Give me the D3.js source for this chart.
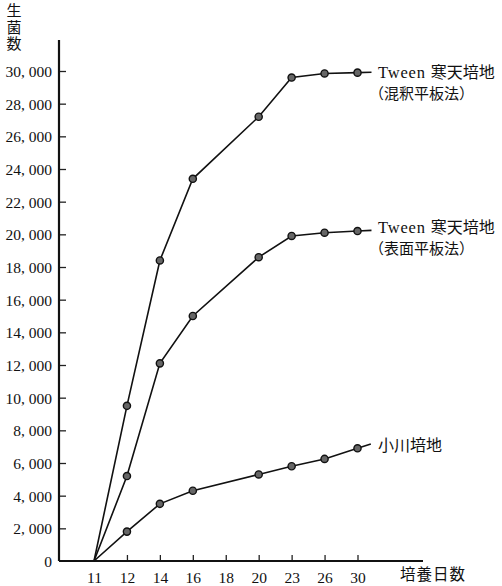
<!DOCTYPE html>
<html>
<head>
<meta charset="utf-8">
<script src="https://cdn.jsdelivr.net/npm/d3@7"></script>
<style>
html,body{margin:0;padding:0;background:#fff;}
svg{display:block;}
.num{font-family:"Liberation Serif","DejaVu Serif",serif;fill:#111;}
.cjk{font-family:"Noto Sans CJK JP","Noto Sans CJK SC",sans-serif;fill:#111;}
</style>
</head>
<body>
<svg id="chart" width="502" height="586"></svg>
<script>
// ---- data ----
const xCategories = ["11","12","14","16","18","20","23","26","30"];
const days = ["11","12","14","16","20","23","26","30"];
const seriesMixed = [0, 9500, 18400, 23400, 27200, 29600, 29850, 29900];   // Tween 寒天培地（混釈平板法）
const seriesSurface = [0, 5200, 12100, 15000, 18600, 19900, 20100, 20200]; // Tween 寒天培地（表面平板法）
const seriesOgawa = [0, 1800, 3500, 4300, 5300, 5800, 6250, 6900];         // 小川培地
const yTicks = [0,2000,4000,6000,8000,10000,12000,14000,16000,18000,20000,22000,24000,26000,28000,30000];
const seriesNames = [["Tween 寒天培地","（混釈平板法）"],["Tween 寒天培地","（表面平板法）"],["小川培地"]];
const yTitle = "生菌数";
const xTitle = "培養日数";

const svg = d3.select("#chart");
const x = d3.scalePoint().domain(xCategories).range([94, 357.5]).padding(0);
const y = d3.scaleLinear().domain([0, 30000]).range([561, 71]);
const axisX = 59;

// y axis
const yAxis = d3.axisLeft(y).tickValues(yTicks).tickSizeInner(-7).tickSizeOuter(0).tickPadding(7)
  .tickFormat(v => d3.format(",")(v).replace(",", ", "));
const gy = svg.append("g").attr("transform", `translate(${axisX},0)`).call(yAxis);
gy.select(".domain").remove();
gy.selectAll(".tick line").attr("stroke", "#222").attr("stroke-width", 1.3);
gy.selectAll(".tick").filter(d => d === 0).select("line").remove();
gy.selectAll(".tick text").attr("class", "num").style("font-size", "15.5px").attr("fill", "#111")
  .attr("font-family", null).attr("dy", "0.35em");

// x axis
const xAxis = d3.axisBottom(x).tickSizeInner(-6).tickSizeOuter(0).tickPadding(11);
const gx = svg.append("g").attr("transform", `translate(0,561)`).call(xAxis);
gx.select(".domain").remove();
gx.selectAll(".tick line").attr("stroke", "#222").attr("stroke-width", 1.3);
gx.selectAll(".tick").filter(d => d === "11").select("line").remove();
gx.selectAll(".tick text").attr("class", "num").style("font-size", "15.5px").attr("fill", "#111")
  .attr("font-family", null);

// axis lines
svg.append("line").attr("x1", axisX).attr("x2", axisX).attr("y1", 40).attr("y2", y(0))
  .attr("stroke", "#111").attr("stroke-width", 2.2);
svg.append("line").attr("x1", axisX).attr("x2", 423).attr("y1", y(0)).attr("y2", y(0))
  .attr("stroke", "#111").attr("stroke-width", 1.8);

// axis titles
svg.append("text").attr("class", "cjk").attr("x", 14).attr("y", 3)
  .attr("writing-mode", "vertical-rl").style("writing-mode", "vertical-rl")
  .style("font-size", "15px").style("letter-spacing", "1.5px").text(yTitle);
svg.append("text").attr("class", "cjk").attr("x", 400).attr("y", 580)
  .style("font-size", "15.5px").style("letter-spacing", "1px").text(xTitle);

// series
const allSeries = [seriesMixed, seriesSurface, seriesOgawa];
const line = d3.line().x(d => d[0]).y(d => d[1]);
allSeries.forEach((vals, si) => {
  const pts = days.map((dd, i) => [x(dd), y(vals[i])]);
  const n = pts.length;
  const a = pts[n - 2], b = pts[n - 1];
  const dx = b[0] - a[0], dy = b[1] - a[1];
  const len = Math.hypot(dx, dy);
  const ext = 14;
  const end = [b[0] + dx / len * ext, b[1] + dy / len * ext];
  svg.append("path").datum(pts.concat([end])).attr("d", line)
    .attr("fill", "none").attr("stroke", "#111").attr("stroke-width", 1.6);
  svg.append("g").selectAll("circle").data(pts.slice(1)).join("circle")
    .attr("cx", d => d[0]).attr("cy", d => d[1]).attr("r", 3.6)
    .attr("fill", "#666").attr("stroke", "#111").attr("stroke-width", 1.4);
});

// series labels
const labelPos = [[378, 78], [378, 233], [378, 451]];
seriesNames.forEach((lines, si) => {
  const [lx, ly] = labelPos[si];
  lines.forEach((txt, li) => {
    const t = svg.append("text").attr("x", li === 0 ? lx : lx - 9).attr("y", ly + li * 21);
    if (txt.startsWith("Tween")) {
      t.append("tspan").attr("class", "num").style("font-size", "16.5px").style("letter-spacing", "0.8px").text("Tween ");
      t.append("tspan").attr("class", "cjk").style("font-size", "16px").text(txt.replace("Tween ", ""));
    } else {
      t.attr("class", "cjk").style("font-size", li === 0 ? "16px" : "15px").text(txt);
    }
  });
});
</script>
</body>
</html>
